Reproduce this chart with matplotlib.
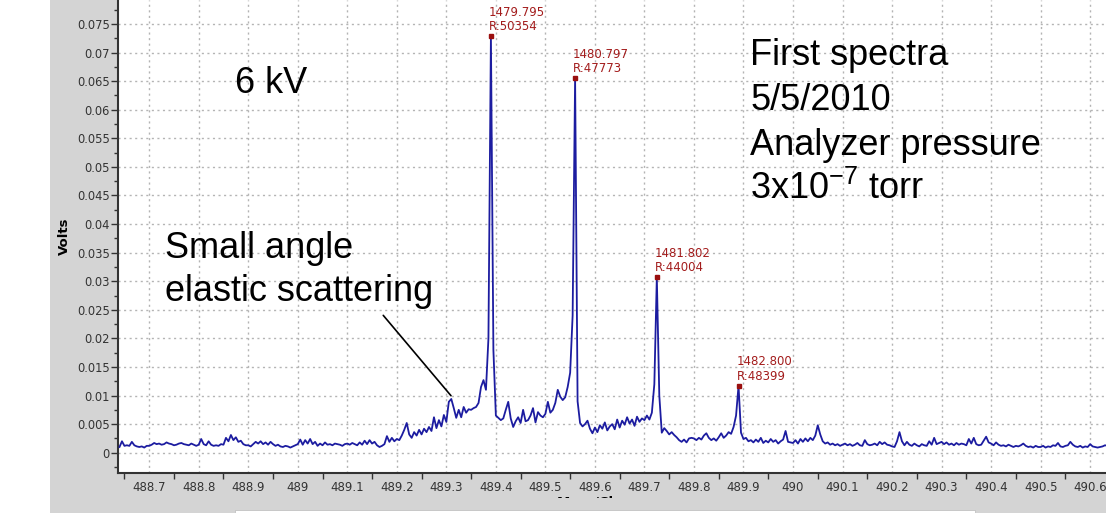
import numpy as np
import matplotlib
matplotlib.use("Agg")
import matplotlib.pyplot as plt
from matplotlib.patches import Rectangle
from matplotlib.ticker import MultipleLocator, FuncFormatter

plt.rcParams['font.family'] = ['DejaVu Sans']
plt.rcParams['mathtext.fontset'] = 'custom'
plt.rcParams['mathtext.rm'] = 'Liberation Sans'
plt.rcParams['mathtext.it'] = 'Liberation Sans'

# ---------------- data (signal in mV, sampled every 0.005 from 488.64) ----------------
mass_start = 488.64
mass_step = 0.005

signal_left = [
    1.0, 2.0, 1.2, 1.3, 1.2, 1.9, 1.3, 1.1, 1.0, 1.1, 0.9, 1.2,
    1.2, 1.4, 1.7, 1.5, 1.6, 1.4, 1.5, 1.8, 1.6, 1.5, 1.3, 1.4, 1.6, 1.7, 1.5, 1.4, 1.3, 1.6, 1.4, 1.2,
    1.4, 2.4, 1.5, 1.3, 2.0, 1.4, 1.2, 1.3, 1.2, 1.5, 1.4, 2.6, 2.0, 3.1, 2.2, 2.7, 1.9, 2.1, 1.5, 1.3,
    1.3, 1.1, 1.5, 1.9, 1.6, 2.0, 1.5, 1.8, 1.4, 1.9, 1.5, 1.2, 1.4, 1.1, 1.0, 1.2, 1.1, 0.9, 1.1, 1.3,
    1.5, 2.3, 1.4, 2.2, 1.6, 2.4, 1.5, 1.9, 1.2, 1.6, 1.3, 1.8, 1.4, 1.5, 1.3, 1.6, 1.5, 1.4, 1.2, 1.5,
    1.6, 1.4, 1.7, 1.5, 1.3, 1.8, 1.4, 2.1, 1.5, 2.2, 1.6, 1.9, 1.3, 1.0, 1.2, 1.5, 2.9, 1.9, 2.6, 2.0,
]
signal_rise = [
    2.4, 2.2, 3.0, 4.0, 5.2, 3.2, 2.6, 3.6, 3.0, 4.0, 3.2, 4.2, 3.6, 4.5, 3.8, 6.2, 4.3, 5.7, 4.6, 6.6,
    5.4, 8.9, 9.4, 7.8, 6.1, 7.5, 6.2, 8.0, 7.0, 7.6, 7.5, 7.8, 8.0, 8.7, 11.5, 12.7, 11.0, 20.0, 72.9, 18.0,
    6.5, 6.1, 5.7, 6.0, 7.5, 8.9, 6.0, 4.5, 5.5, 6.2, 5.2, 7.5, 5.5, 5.7, 6.5, 7.8, 5.3, 7.1, 6.5, 6.2,
    6.8, 8.9, 7.0, 7.5, 8.7, 11.0, 9.8, 9.2, 9.7, 11.5, 14.0, 24.0, 65.5, 9.0, 5.2, 4.6, 5.0, 5.6, 4.2, 3.4,
]
signal_mid = [
    4.4, 3.6, 4.8, 4.2, 5.3, 3.9, 4.6, 5.0, 4.1, 5.8, 4.4, 5.6, 4.9, 6.2, 5.1, 5.8, 4.7, 6.3, 5.4, 6.0,
    5.7, 6.5, 5.8, 7.0, 12.0, 30.7, 10.0, 3.5, 4.3, 3.8, 3.2, 3.6, 3.1, 2.7, 2.2, 1.9, 2.3, 1.8, 2.5, 2.6,
    2.5, 2.2, 2.6, 2.3, 3.0, 3.4, 2.6, 2.2, 2.5, 2.1, 2.7, 3.4, 2.6, 3.0, 3.6, 3.3, 4.5, 6.5, 11.7, 3.5,
    2.4, 2.6, 2.0, 2.2, 1.8, 2.3, 1.9, 2.6, 1.7, 2.1, 1.8, 2.4, 1.9, 2.2, 1.6, 2.0, 2.3, 3.8, 1.9, 1.8,
    1.7, 2.2, 1.6, 2.4, 1.9, 2.5, 2.0, 2.6, 2.2, 3.0, 4.8, 3.2, 2.0, 1.6, 1.8, 1.4, 1.6, 1.3, 1.5, 1.2,
]
signal_right = [
    1.4, 1.6, 1.3, 1.5, 1.2, 1.4, 1.7, 1.3, 1.2, 2.2, 1.5, 1.3, 1.4, 1.6, 1.3, 1.9, 1.5, 1.8, 1.4, 1.3,
    1.1, 1.0, 2.0, 3.6, 2.0, 1.3, 1.9, 1.4, 1.2, 1.6, 1.3, 1.1, 1.5, 1.3, 1.2, 2.0, 1.4, 2.6, 1.5, 1.7,
    1.9, 1.5, 1.8, 1.4, 1.6, 1.3, 1.7, 1.4, 1.6, 1.5, 1.3, 2.4, 1.6, 2.6, 1.5, 1.3, 1.4, 2.1, 2.8, 1.8,
    1.6, 1.3, 1.8, 1.4, 1.2, 1.3, 1.1, 1.4, 1.2, 1.0, 1.2, 1.1, 1.3, 1.6, 1.2, 1.0, 1.1, 0.9, 1.2, 1.0,
    1.0, 1.2, 0.9, 1.1, 1.0, 1.3, 1.2, 1.7, 1.1, 1.0, 1.2, 1.3, 1.9, 1.4, 1.1, 1.0, 1.2, 0.9, 1.1, 1.0,
    1.5, 1.1, 1.0, 0.9, 1.0, 1.1, 1.3, 1.2,
]

peak_positions = [489.39, 489.56, 489.725, 489.89]
peak_masses = ["1479.795", "1480.797", "1481.802", "1482.800"]
peak_resolution = [50354, 47773, 44004, 48399]

y_ticks = [0, 0.005, 0.01, 0.015, 0.02, 0.025, 0.03, 0.035, 0.04, 0.045,
           0.05, 0.055, 0.06, 0.065, 0.07, 0.075]
x_ticks = [488.7, 488.8, 488.9, 489.0, 489.1, 489.2, 489.3, 489.4, 489.5, 489.6,
           489.7, 489.8, 489.9, 490.0, 490.1, 490.2, 490.3, 490.4, 490.5, 490.6]

volts = np.array(signal_left + signal_rise + signal_mid + signal_right) / 1000.0
mass = mass_start + mass_step * np.arange(len(volts))

# ---------------- figure ----------------
W, H = 1106, 513
fig = plt.figure(figsize=(W / 100, H / 100), dpi=100)
fig.patch.set_facecolor('white')
fig.patches.append(Rectangle((50 / W, 0), 1 - 50 / W, 1, transform=fig.transFigure,
                             facecolor='#d4d4d4', edgecolor='none', zorder=0))

ax = fig.add_axes([118 / W, (H - 473) / H, (W - 118) / W, 473 / H])
ax.set_facecolor('white')
ax.set_zorder(2)

ax.plot(mass, volts, color='#1c1ca0', lw=1.3, zorder=3)

for p, m, r in zip(peak_positions, peak_masses, peak_resolution):
    i = int(np.argmin(np.abs(mass - p)))
    ax.plot([mass[i]], [volts[i]], marker='s', ms=3.2, color='#9a0f0f', zorder=4)
    ax.annotate(f"{m}\nR:{r}", xy=(mass[i], volts[i]), xytext=(-2, 3),
                textcoords='offset pixels', ha='left', va='bottom',
                fontsize=8.5, color='#a31c1c', linespacing=1.15, zorder=5)

ax.set_xlim(488.637, 490.632)
ax.set_ylim(-0.00355, 0.0792)
ax.set_xticks(x_ticks)
ax.set_yticks(y_ticks)
ax.xaxis.set_minor_locator(MultipleLocator(0.05))
ax.yaxis.set_minor_locator(MultipleLocator(0.0025))
fmt = FuncFormatter(lambda v, pos: '{:g}'.format(round(v, 4)))
ax.xaxis.set_major_formatter(fmt)
ax.yaxis.set_major_formatter(fmt)

ax.grid(True, which='major', color='#b4b4b4', linestyle=(0, (1.5, 2.5)), lw=1.0)
ax.tick_params(axis='x', which='major', length=0, pad=6, labelsize=8.5, colors='#333333')
ax.tick_params(axis='x', which='minor', length=4, width=1, color='#333333')
ax.tick_params(axis='y', which='major', length=5, width=1, pad=1, labelsize=8.3, colors='#333333')
ax.tick_params(axis='y', which='minor', length=3, width=1, color='#333333')
for s in ['top', 'right']:
    ax.spines[s].set_visible(False)
for s in ['left', 'bottom']:
    ax.spines[s].set_color('#333333')
    ax.spines[s].set_linewidth(1.5)

ax.set_ylabel('Volts', fontsize=9.5, fontweight='bold')
ax.yaxis.set_label_coords(-0.0476, 0.5)

big = dict(fontsize=26, family='Liberation Sans', color='black', transform=ax.transAxes,
           ha='left', va='baseline', zorder=6)
ax.text(0.1184, 0.8034, '6 kV', **big)
ax.text(0.6397, 0.8626, 'First spectra', **big)
ax.text(0.6397, 0.7674, '5/5/2010', **big)
ax.text(0.6397, 0.6723, 'Analyzer pressure', **big)
ax.text(0.6397, 0.5793, '3x10$^{-7}$ torr', **big)
ax.text(0.0476, 0.4545, 'Small angle', **big)
ax.text(0.0476, 0.3636, 'elastic scattering', **big)
ax.annotate('', xy=(489.313, 0.0096), xytext=(489.169, 0.0244),
            arrowprops=dict(arrowstyle='-', color='black', lw=1.2), zorder=6)

# cut-off x label and bottom strip of the screenshot
fig.text(605 / W, (H - 496) / H, 'Mass/Charge', fontsize=9.5, fontweight='bold',
         ha='center', va='top', zorder=1)
fig.patches.append(Rectangle((0.2, 3 / H), 0.6, 12 / H, transform=fig.transFigure,
                             facecolor='#d4d4d4', edgecolor='none', zorder=1.5))
fig.patches.append(Rectangle((235 / W, 0), (975 - 235) / W, 3 / H, transform=fig.transFigure,
                             facecolor='white', edgecolor='#bbbbbb', lw=0.5, zorder=1.6))

fig.savefig('out.png', dpi=100)
